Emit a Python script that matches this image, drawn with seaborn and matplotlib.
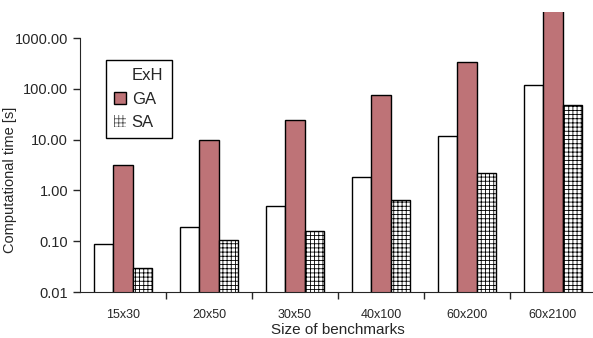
import numpy as np
import pandas as pd
import matplotlib
matplotlib.use("Agg")
import matplotlib.pyplot as plt
import matplotlib.patches as mpatches
import seaborn as sns

# 数据
benchmarks = ["15x30", "20x50", "30x50", "40x100", "60x200", "60x2100"]
methods = ["ExH", "GA", "SA"]
exh_time = [0.088, 0.19, 0.49, 1.83, 11.8, 118]
ga_time = [3.2, 10.0, 25.0, 75.0, 340.0, 4000.0]
sa_time = [0.030, 0.105, 0.16, 0.65, 2.2, 48]
ytick_vals = [0.01, 0.1, 1, 10, 100, 1000]

GA_COLOR = "#be7377"

sns.set_style("ticks")
plt.rcParams['font.family'] = ['Liberation Sans', 'DejaVu Sans']
plt.rcParams['hatch.linewidth'] = 0.6

df = pd.DataFrame({
    "size": benchmarks * 3,
    "method": [m for m in methods for _ in benchmarks],
    "time": exh_time + ga_time + sa_time,
})

fig = plt.figure(figsize=(5.93, 3.38), dpi=100)
ax = fig.add_axes([0.135, 0.136, 0.87, 0.828])

sns.barplot(data=df, x="size", y="time", hue="method", order=benchmarks,
            hue_order=methods, palette=["white", GA_COLOR, "white"],
            width=0.67, edgecolor="black", linewidth=1.0, saturation=1,
            legend=False, ax=ax)

for patch in ax.containers[2]:
    patch.set_hatch("++++")

ax.set_yscale("log")
ax.set_ylim(0.01, 3250)
ax.set_xlim(-0.5, 5.5)
ax.spines['left'].set_bounds(0.01, 1000)
ax.spines['top'].set_visible(False)
ax.spines['right'].set_visible(False)
ax.set_yticks(ytick_vals)
ax.set_yticklabels([f"{v:.2f}" for v in ytick_vals], fontsize=10.5)
ax.yaxis.set_minor_locator(matplotlib.ticker.NullLocator())
ax.tick_params(axis='y', length=5, width=1, direction='out')

# x 轴: 标签居中, 刻度在组边界
ax.set_xticks(range(len(benchmarks)))
ax.set_xticklabels(benchmarks, fontsize=9)
ax.tick_params(axis='x', which='major', length=0, pad=12)
ax.set_xticks(np.arange(0.5, len(benchmarks) - 0.5, 1), minor=True)
ax.tick_params(axis='x', which='minor', length=5, width=1, direction='out')

ax.set_xlabel("Size of benchmarks", fontsize=11, labelpad=2)
ax.set_ylabel("Computational time [s]", fontsize=10.5)
ax.yaxis.set_label_coords(-0.122, 0.4)

handles = [
    mpatches.Patch(facecolor="white", edgecolor="white", label="ExH"),
    mpatches.Patch(facecolor=GA_COLOR, edgecolor="black", label="GA"),
    mpatches.Patch(facecolor="white", edgecolor="#555555", linewidth=0,
                   hatch="++++", label="SA"),
]
leg = ax.legend(handles=handles, loc="upper left", bbox_to_anchor=(0.05, 0.829),
                borderaxespad=0, fontsize=12, fancybox=False, framealpha=1,
                edgecolor="black", handlelength=0.7, handleheight=0.7,
                handletextpad=0.35, labelspacing=0.5, borderpad=0.5)
leg.get_frame().set_linewidth(1.0)

fig.savefig("out.png", dpi=100)
